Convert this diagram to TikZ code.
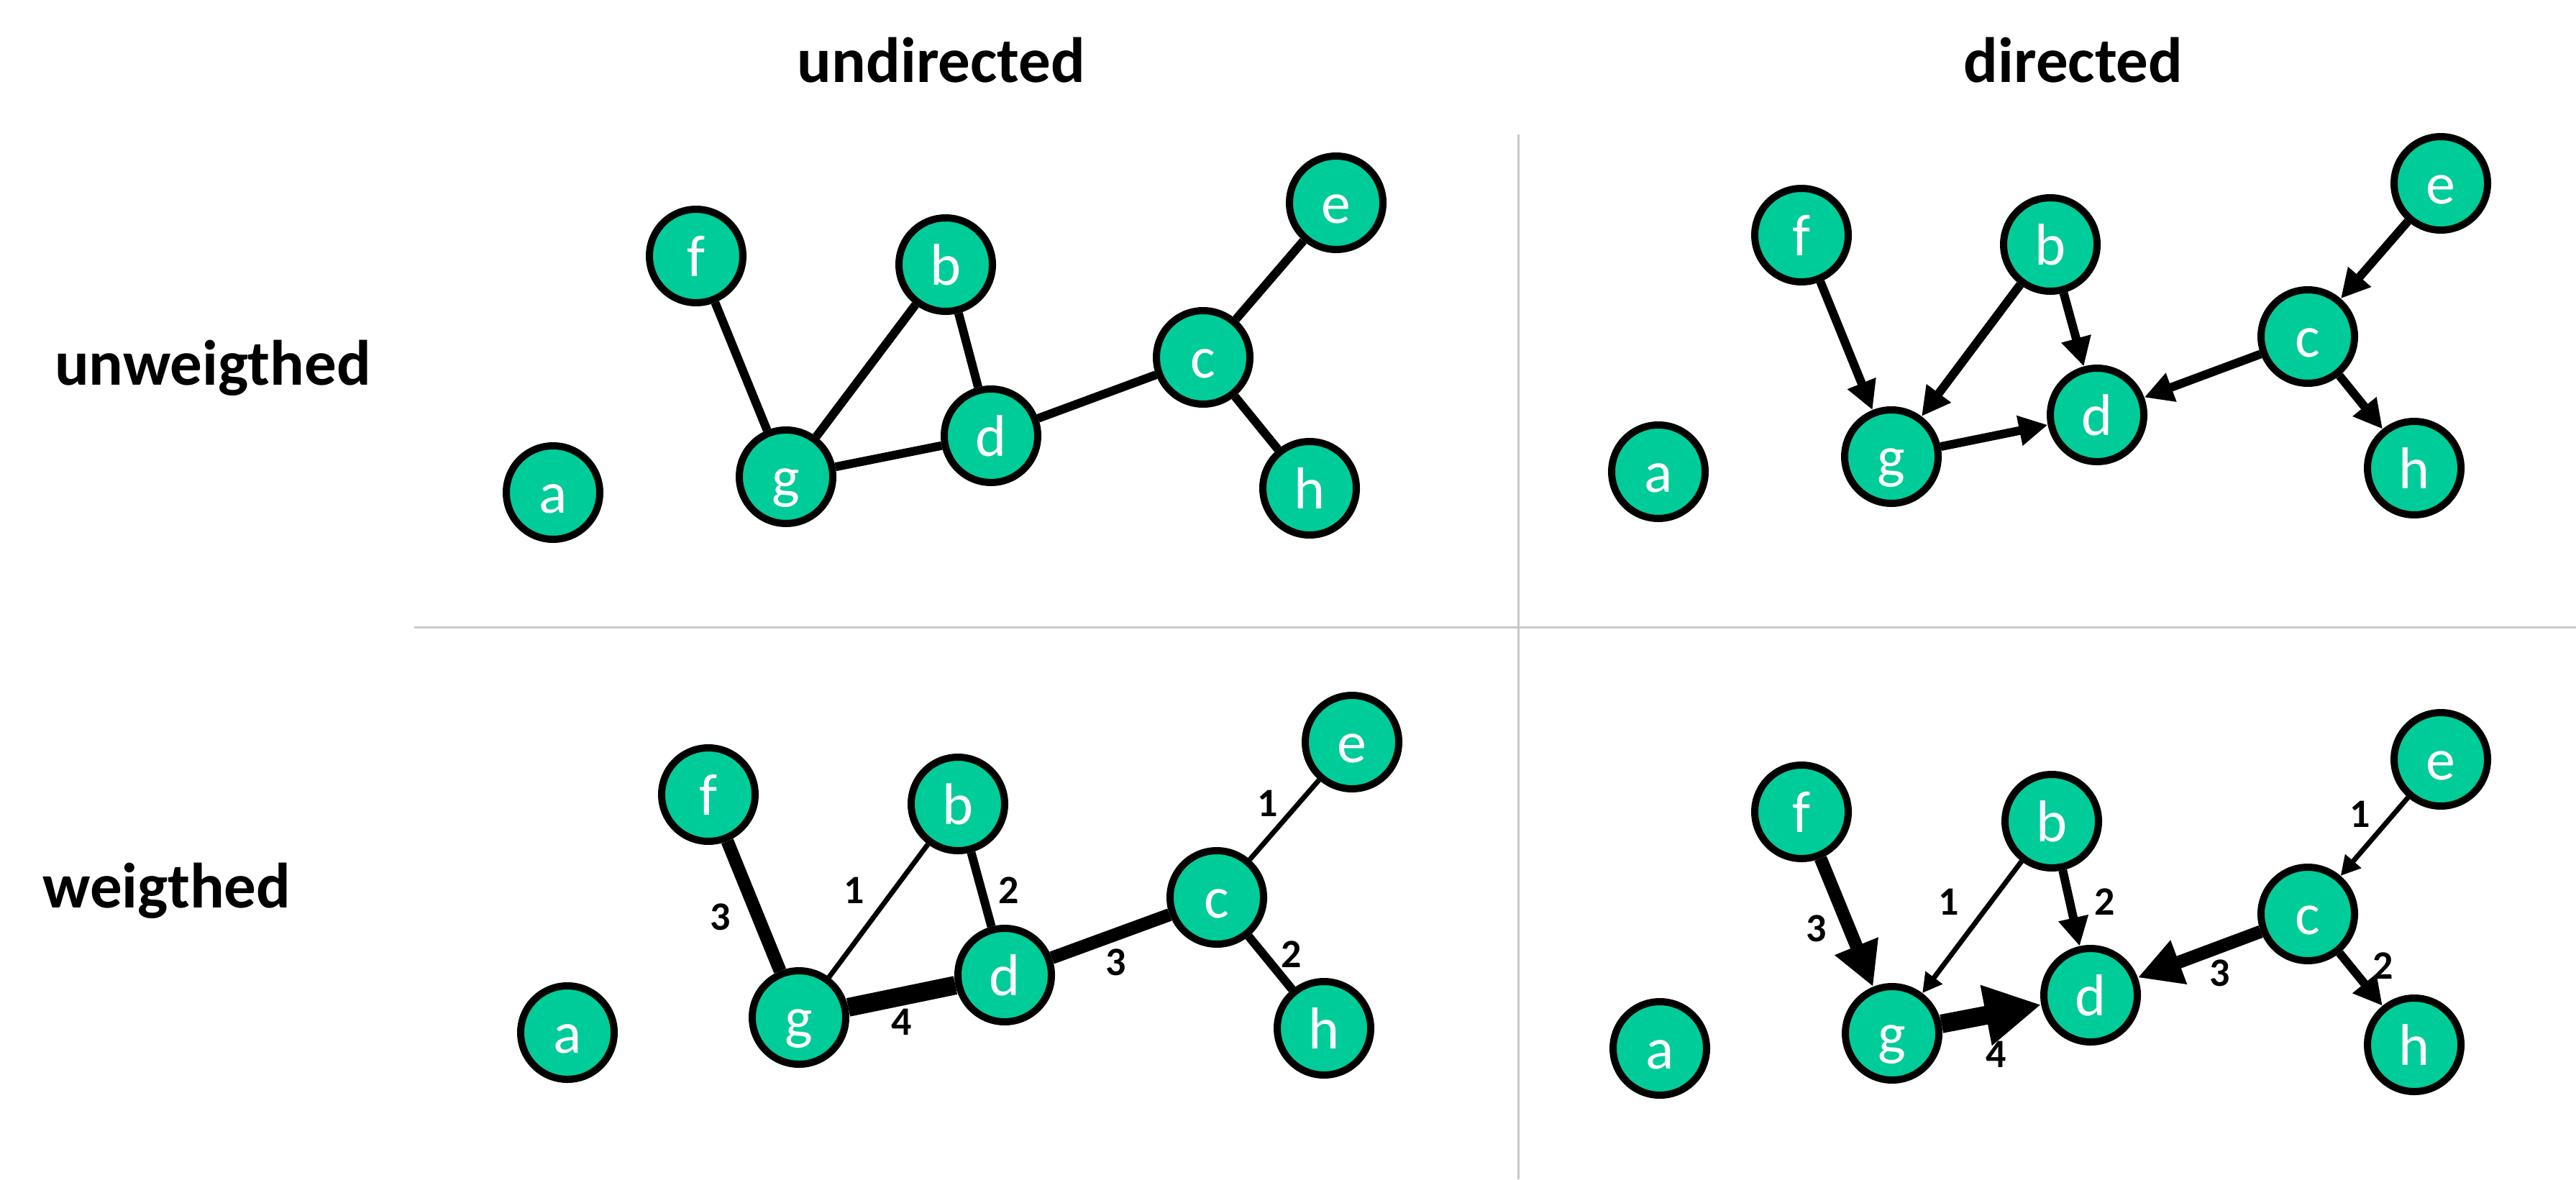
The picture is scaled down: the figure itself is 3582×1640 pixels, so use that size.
\documentclass[tikz,border=0pt]{standalone}
\usepackage{fontspec}
\setmainfont{Carlito}
\usetikzlibrary{arrows.meta}
\definecolor{nodegreen}{RGB}{0,204,153}
\definecolor{divider}{RGB}{200,200,200}
\begin{document}
\begin{tikzpicture}[x=0.2pt,y=-0.2pt,
  vtx/.style={circle, draw=black, line width=2pt, fill=nodegreen, minimum size=26pt,
    inner sep=0pt, text=white, font=\fontsize{16.4}{16.4}\selectfont,
    text height=11.3pt, text depth=0pt},
  title/.style={font=\bfseries\fontsize{17.8}{17.8}\selectfont, anchor=base, inner sep=0pt},
  wlab/.style={font=\bfseries\fontsize{11.2}{11.2}\selectfont, inner sep=0pt},
  plainedge/.style={line width=2.4pt},
  plainarr/.style={line width=2.4pt, -{Triangle[length=8pt,width=8pt]}},
  wa/.style={line width=1.4pt},
  wb/.style={line width=2.4pt},
  wc/.style={line width=3.6pt},
  wd/.style={line width=5.2pt},
  wat/.style={-{Triangle[length=5.4pt,width=5.6pt]}},
  wbt/.style={-{Triangle[length=8pt,width=8pt]}},
  wct/.style={-{Triangle[length=12.2pt,width=12.2pt]}},
  wdt/.style={-{Triangle[length=15.6pt,width=16pt]}},
  divline/.style={draw=divider, line width=0.6pt}
]
\useasboundingbox (0,0) rectangle (3582,1640);

% dividers
\coordinate (hl) at (576,872);
\coordinate (hr) at (3582,872);
\coordinate (vt) at (2111,187);
\coordinate (vb) at (2111,1640);
\draw[divline] (hl) -- (hr);
\draw[divline] (vt) -- (vb);

% titles
\node[title] (tund) at (1309,114) {undirected};
\node[title] (tdir) at (2883,114) {directed};
\node[title] (tunw) at (296,535) {unweigthed};
\node[title] (twei) at (232,1262) {weigthed};

% top-left: undirected unweighted
\node[vtx] (a1) at (769,685) {a};
\node[vtx] (f1) at (968,356) {f};
\node[vtx] (b1) at (1315,368) {b};
\node[vtx] (g1) at (1093,663) {g};
\node[vtx] (d1) at (1378,606) {d};
\node[vtx] (c1) at (1673,497) {c};
\node[vtx] (e1) at (1858,282) {e};
\node[vtx] (h1) at (1821,679) {h};
\draw[plainedge] (f1) -- (g1);
\draw[plainedge] (b1) -- (g1);
\draw[plainedge] (b1) -- (d1);
\draw[plainedge] (g1) -- (d1);
\draw[plainedge] (d1) -- (c1);
\draw[plainedge] (c1) -- (e1);
\draw[plainedge] (c1) -- (h1);

% top-right: directed unweighted
\node[vtx] (a2) at (2306,656) {a};
\node[vtx] (f2) at (2505,327) {f};
\node[vtx] (b2) at (2851,340) {b};
\node[vtx] (g2) at (2630,635) {g};
\node[vtx] (d2) at (2916,577) {d};
\node[vtx] (c2) at (3209,468) {c};
\node[vtx] (e2) at (3394,255) {e};
\node[vtx] (h2) at (3357,651) {h};
\draw[plainarr] (f2) -- (g2);
\draw[plainarr] (b2) -- (g2);
\draw[plainarr] (b2) -- (d2);
\draw[plainarr] (g2) -- (d2);
\draw[plainarr] (c2) -- (d2);
\draw[plainarr] (e2) -- (c2);
\draw[plainarr] (c2) -- (h2);

% bottom-left: undirected weighted
\node[vtx] (a3) at (789,1436) {a};
\node[vtx] (f3) at (985,1105) {f};
\node[vtx] (b3) at (1332,1118) {b};
\node[vtx] (g3) at (1111,1415) {g};
\node[vtx] (d3) at (1397,1356) {d};
\node[vtx] (c3) at (1692,1248) {c};
\node[vtx] (e3) at (1880,1032) {e};
\node[vtx] (h3) at (1841,1430) {h};
\draw[wc] (f3) -- (g3);
\draw[wa] (b3) -- (g3);
\draw[wb] (b3) -- (d3);
\draw[wd] (g3) -- (d3);
\draw[wc] (d3) -- (c3);
\draw[wa] (c3) -- (e3);
\draw[wb] (c3) -- (h3);
\node[wlab] (l31) at (1002,1275) {3};
\node[wlab] (l32) at (1188,1238) {1};
\node[wlab] (l33) at (1403,1238) {2};
\node[wlab] (l34) at (1254,1421) {4};
\node[wlab] (l35) at (1552,1338) {3};
\node[wlab] (l36) at (1763,1117) {1};
\node[wlab] (l37) at (1796,1327) {2};

% bottom-right: directed weighted
\node[vtx] (a4) at (2308,1458) {a};
\node[vtx] (f4) at (2505,1129) {f};
\node[vtx] (b4) at (2853,1142) {b};
\node[vtx] (g4) at (2631,1437) {g};
\node[vtx] (d4) at (2907,1384) {d};
\node[vtx] (c4) at (3209,1271) {c};
\node[vtx] (e4) at (3394,1056) {e};
\node[vtx] (h4) at (3357,1453) {h};
\draw[wc,wct] (f4) -- (g4);
\draw[wa,wat] (b4) -- (g4);
\draw[wb,wbt] (b4) -- (d4);
\draw[wd,wdt] (g4) -- (d4);
\draw[wc,wct] (c4) -- (d4);
\draw[wa,wat] (e4) -- (c4);
\draw[wb,wbt] (c4) -- (h4);
\node[wlab] (l41) at (2526,1291) {3};
\node[wlab] (l42) at (2710,1254) {1};
\node[wlab] (l43) at (2927,1254) {2};
\node[wlab] (l44) at (2776,1466) {4};
\node[wlab] (l45) at (3087,1353) {3};
\node[wlab] (l46) at (3282,1132) {1};
\node[wlab] (l47) at (3314,1343) {2};
\end{tikzpicture}
\end{document}
